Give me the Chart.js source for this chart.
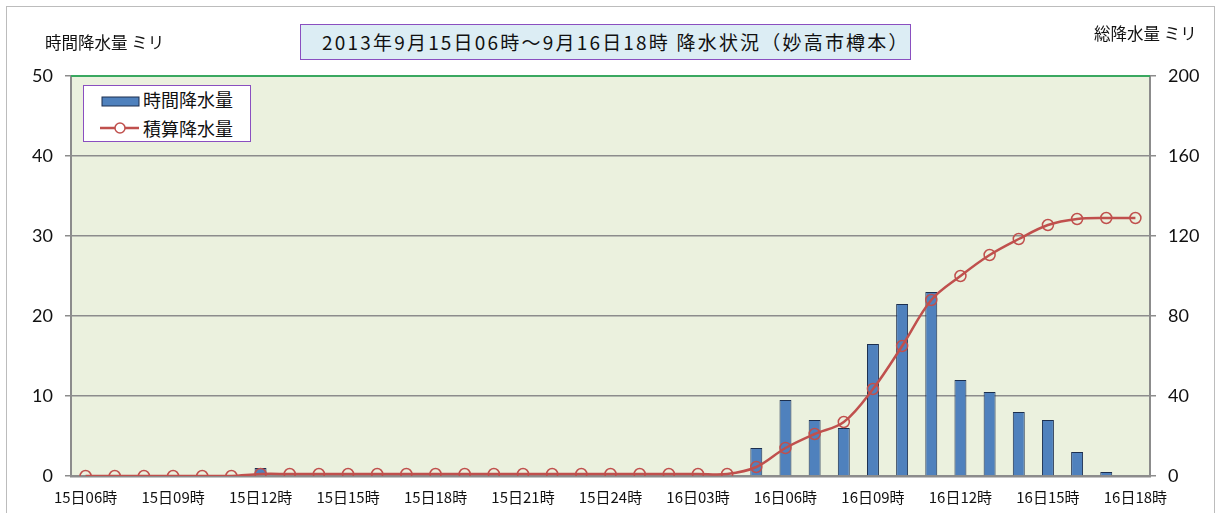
<!DOCTYPE html>
<html>
<head>
<meta charset="utf-8">
<script src="https://cdn.jsdelivr.net/npm/chart.js@4"></script>
<style>
body{margin:0;background:#fff;font-family:"Noto Sans CJK JP",sans-serif;}
#wrap{position:relative;width:1223px;height:513px;overflow:hidden;}
#frame{position:absolute;left:6px;top:6px;width:1209px;height:520px;border:1px solid #bcbcbc;box-sizing:border-box;}
canvas{position:absolute;left:0;top:0;}
.ttl{position:absolute;left:300px;top:24px;width:611px;height:36px;box-sizing:border-box;border:1.5px solid #8a4fc0;background:#dcedf4;
  font-size:19px;line-height:33px;color:#111;padding-left:21px;letter-spacing:2.2px;white-space:nowrap;}
.axt{position:absolute;font-size:16.5px;color:#111;white-space:nowrap;}
#legend{position:absolute;left:83px;top:85px;width:168px;height:57px;box-sizing:border-box;border:1.5px solid #8a4fc0;background:#fff;}
.li{position:absolute;left:59px;font-size:18px;color:#111;line-height:22px;}
</style>
</head>
<body>
<div id="wrap">
  <div id="frame"></div>
  <canvas id="c" width="1223" height="513"></canvas>
  <div class="ttl" id="title"></div>
  <div class="axt" style="left:45px;top:30px;">時間降水量 ミリ</div>
  <div class="axt" style="left:1094px;top:21px;">総降水量 ミリ</div>
  <div id="legend">
    <svg width="60" height="57" style="position:absolute;left:0;top:0">
      <rect x="18" y="11" width="37" height="9" fill="#4f81bd" stroke="#1c2f4f" stroke-width="1"/>
      <line x1="16" y1="42" x2="55" y2="42" stroke="#c0504d" stroke-width="2.5"/>
      <circle cx="36" cy="42" r="5" fill="#fff" stroke="#c0504d" stroke-width="1.5"/>
    </svg>
    <div class="li" style="top:2px" id="lg0"></div>
    <div class="li" style="top:31px" id="lg1"></div>
  </div>
</div>
<script>
const TITLE='2013年9月15日06時～9月16日18時 降水状況（妙高市樽本）';
const HOURS=['15日06時','15日07時','15日08時','15日09時','15日10時','15日11時','15日12時','15日13時','15日14時','15日15時',
  '15日16時','15日17時','15日18時','15日19時','15日20時','15日21時','15日22時','15日23時','15日24時',
  '16日01時','16日02時','16日03時','16日04時','16日05時','16日06時','16日07時','16日08時','16日09時','16日10時',
  '16日11時','16日12時','16日13時','16日14時','16日15時','16日16時','16日17時','16日18時'];
const HOURLY=[0,0,0,0,0,0,1,0,0,0,0,0,0,0,0,0,0,0,0,0,0,0,0,3.5,9.5,7,6,16.5,21.5,23,12,10.5,8,7,3,0.5,0];
const TOTAL=[0,0,0,0,0,0,1,1,1,1,1,1,1,1,1,1,1,1,1,1,1,1,1,4.5,14,21,27,43.5,65,88,100,110.5,118.5,125.5,128.5,129,129];
const LEFT_TICKS=[0,10,20,30,40,50];
const RIGHT_TICKS=[0,40,80,120,160,200];
const LABELS=['時間降水量','積算降水量'];

document.getElementById('title').textContent=TITLE;
document.getElementById('lg0').textContent=LABELS[0];
document.getElementById('lg1').textContent=LABELS[1];

const plotBg={id:'plotBg',
  beforeDraw(c){const a=c.chartArea,x=c.ctx;x.save();x.fillStyle='#ebf1de';x.fillRect(a.left,a.top,a.right-a.left,a.bottom-a.top);x.restore();},
  afterDraw(c){const a=c.chartArea,x=c.ctx;x.save();x.strokeStyle='#3aa860';x.lineWidth=2;x.beginPath();x.moveTo(a.left,a.top);x.lineTo(a.right,a.top);x.stroke();x.restore();}
};
const tickFont={family:'Lato',size:18};
new Chart(document.getElementById('c'),{
  type:'bar',
  data:{labels:HOURS,datasets:[
    {type:'bar',label:LABELS[0],data:HOURLY,yAxisID:'y',backgroundColor:'#4f81bd',borderColor:'#1c2f4f',borderWidth:1,
      barPercentage:0.41,categoryPercentage:1,order:2},
    {type:'line',label:LABELS[1],data:TOTAL,yAxisID:'y1',borderColor:'#c0504d',borderWidth:2.5,tension:0.35,
      pointRadius:5.5,pointBorderWidth:1.5,pointBorderColor:'#c0504d',pointBackgroundColor:'rgba(0,0,0,0)',order:1}
  ]},
  options:{responsive:false,devicePixelRatio:1,animation:false,
    layout:{padding:{left:0,right:0,top:76,bottom:0}},
    plugins:{legend:{display:false},tooltip:{enabled:false}},
    scales:{
      x:{grid:{display:false,drawTicks:false},border:{display:true,color:'#8c8c8c',width:2.5},
        ticks:{autoSkip:false,maxRotation:0,padding:12,color:'#111',font:{family:'Noto Sans CJK JP',size:15},
          callback:(v,i)=>i%3===0?HOURS[i]:''},
        afterFit:s=>{s.height=37;}},
      y:{position:'left',min:0,max:50,
        afterBuildTicks:s=>{s.ticks=LEFT_TICKS.map(v=>({value:v}));},
        grid:{color:'#8c8c8c',lineWidth:1.5,tickLength:6},border:{color:'#8c8c8c',width:2},
        ticks:{padding:12,color:'#111',font:tickFont},
        afterFit:s=>{s.width=71;}},
      y1:{position:'right',min:0,max:200,
        afterBuildTicks:s=>{s.ticks=RIGHT_TICKS.map(v=>({value:v}));},
        grid:{drawOnChartArea:false,color:'#8c8c8c',lineWidth:1.5,tickLength:6},border:{color:'#8c8c8c',width:2},
        ticks:{padding:12,color:'#111',font:tickFont},
        afterFit:s=>{s.width=73;}}
    }
  },
  plugins:[plotBg]
});
</script>
</body>
</html>
